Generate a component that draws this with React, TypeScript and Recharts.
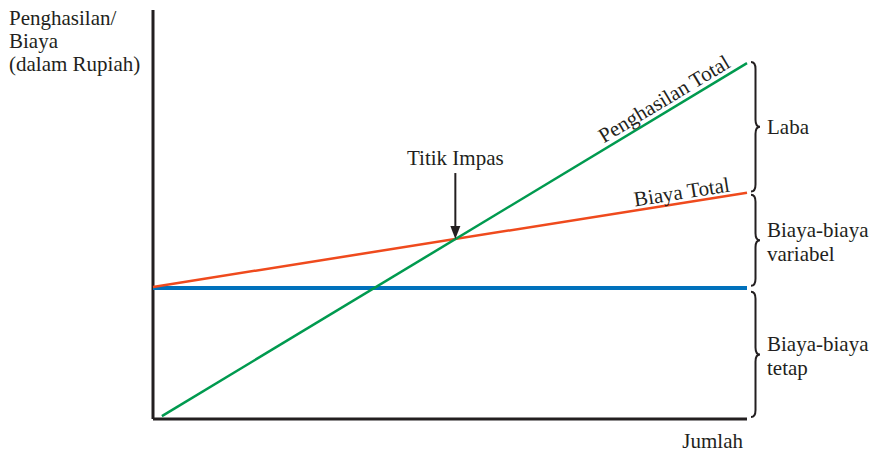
import { LineChart, Line, XAxis, YAxis, ReferenceArea, ReferenceDot, ReferenceLine, LabelList } from 'recharts'

// quantity (x) vs rupiah (y), both on a 0..100 scale
const revenue = [
  { q: 1.5, v: 0.7 },
  { q: 100, v: 87 },
]
const totalCost = [
  { q: 0, v: 32.3 },
  { q: 100, v: 55.3 },
]
const fixedCost = [
  { q: 0, v: 32 },
  { q: 100, v: 32 },
]
const breakEven = { q: 50.9, v: 44 }

const braces = [
  { from: 55.6, to: 87.3, lines: ['Laba'] },
  { from: 32.6, to: 54.8, lines: ['Biaya-biaya', 'variabel'] },
  { from: 0.5, to: 31.1, lines: ['Biaya-biaya', 'tetap'] },
]

const yAxisLines = ['Penghasilan/', 'Biaya', '(dalam Rupiah)']
const xAxisTitle = 'Jumlah'

const INK = '#231f20'
const FONT = '"Liberation Serif", "Times New Roman", serif'
const FS = 21

function Brace(props: any) {
  const { x, y, width, height, lines } = props
  const x0 = x + width + 4
  const top = y
  const bot = y + height
  const mid = (top + bot) / 2
  const w = 9
  const r = 7
  const xm = x0 + w / 2
  const d = `M ${x0} ${top} Q ${xm} ${top} ${xm} ${top + r} L ${xm} ${mid - r} Q ${xm} ${mid} ${x0 + w} ${mid} Q ${xm} ${mid} ${xm} ${mid + r} L ${xm} ${bot - r} Q ${xm} ${bot} ${x0} ${bot}`
  const first = mid + 7 - (lines.length - 1) * 10
  return (
    <g>
      <path d={d} fill="none" stroke={INK} strokeWidth={2} />
      {lines.map((t: string, i: number) => (
        <text key={t + i} x={x0 + 16} y={first + i * 24} fontSize={FS} fontFamily={FONT} fill={INK}>
          {t}
        </text>
      ))}
    </g>
  )
}

function BreakEvenMark(props: any) {
  const { cx, cy } = props
  return (
    <g>
      <line x1={cx} y1={cy - 66} x2={cx} y2={cy - 12} stroke={INK} strokeWidth={2} />
      <path d={`M ${cx - 5} ${cy - 13} L ${cx + 5} ${cy - 13} L ${cx} ${cy} Z`} fill={INK} />
      <text x={cx} y={cy - 74} textAnchor="middle" fontSize={FS} fontFamily={FONT} fill={INK}>
        Titik Impas
      </text>
    </g>
  )
}

function endLabel(text: string, angle: number, back: number, up: number, last: number) {
  return (props: any) => {
    const { x, y, index } = props
    if (index !== last) return null
    return (
      <text
        transform={`translate(${x},${y}) rotate(${angle})`}
        x={-back}
        y={-up}
        textAnchor="end"
        fontSize={FS}
        fontFamily={FONT}
        fill={INK}
      >
        {text}
      </text>
    )
  }
}

export default function App() {
  return (
    <div style={{ position: 'absolute', left: 0, top: 0, background: '#fff' }}>
      <LineChart width={872} height={453} margin={{ top: 10, right: 125, bottom: 34, left: 153 }}>
        <XAxis dataKey="q" type="number" domain={[0, 100]} hide />
        <YAxis type="number" domain={[0, 100]} hide />
        <ReferenceLine
          y={0}
          stroke={INK}
          strokeWidth={3}
          label={(p: any) => {
            const vb = p.viewBox
            return (
              <text x={vb.x + vb.width - 4} y={vb.y + 29} textAnchor="end" fontSize={FS} fontFamily={FONT} fill={INK}>
                {xAxisTitle}
              </text>
            )
          }}
        />
        <ReferenceLine
          x={0}
          stroke={INK}
          strokeWidth={3}
          label={() => (
            <text fontSize={FS} fontFamily={FONT} fill={INK}>
              {yAxisLines.map((t, i) => (
                <tspan key={t} x={9} y={25 + i * 23}>
                  {t}
                </tspan>
              ))}
            </text>
          )}
        />
        {braces.map((b) => (
          <ReferenceArea
            key={b.lines.join()}
            y1={b.from}
            y2={b.to}
            fill="none"
            stroke="none"
            shape={(p: any) => <Brace {...p} lines={b.lines} />}
          />
        ))}
        <Line
          data={fixedCost}
          dataKey="v"
          stroke="#0071bc"
          strokeWidth={4}
          dot={false}
          activeDot={false}
          isAnimationActive={false}
        />
        <Line
          data={totalCost}
          dataKey="v"
          stroke="#ef4a1d"
          strokeWidth={2.5}
          dot={false}
          activeDot={false}
          isAnimationActive={false}
        >
          <LabelList dataKey="v" content={endLabel('Biaya Total', -9, 16, 4, totalCost.length - 1)} />
        </Line>
        <Line
          data={revenue}
          dataKey="v"
          stroke="#009a4f"
          strokeWidth={2.5}
          dot={false}
          activeDot={false}
          isAnimationActive={false}
        >
          <LabelList dataKey="v" content={endLabel('Penghasilan Total', -31, 15, 5, revenue.length - 1)} />
        </Line>
        <ReferenceDot x={breakEven.q} y={breakEven.v} shape={(p: any) => <BreakEvenMark {...p} />} />
      </LineChart>
    </div>
  )
}
